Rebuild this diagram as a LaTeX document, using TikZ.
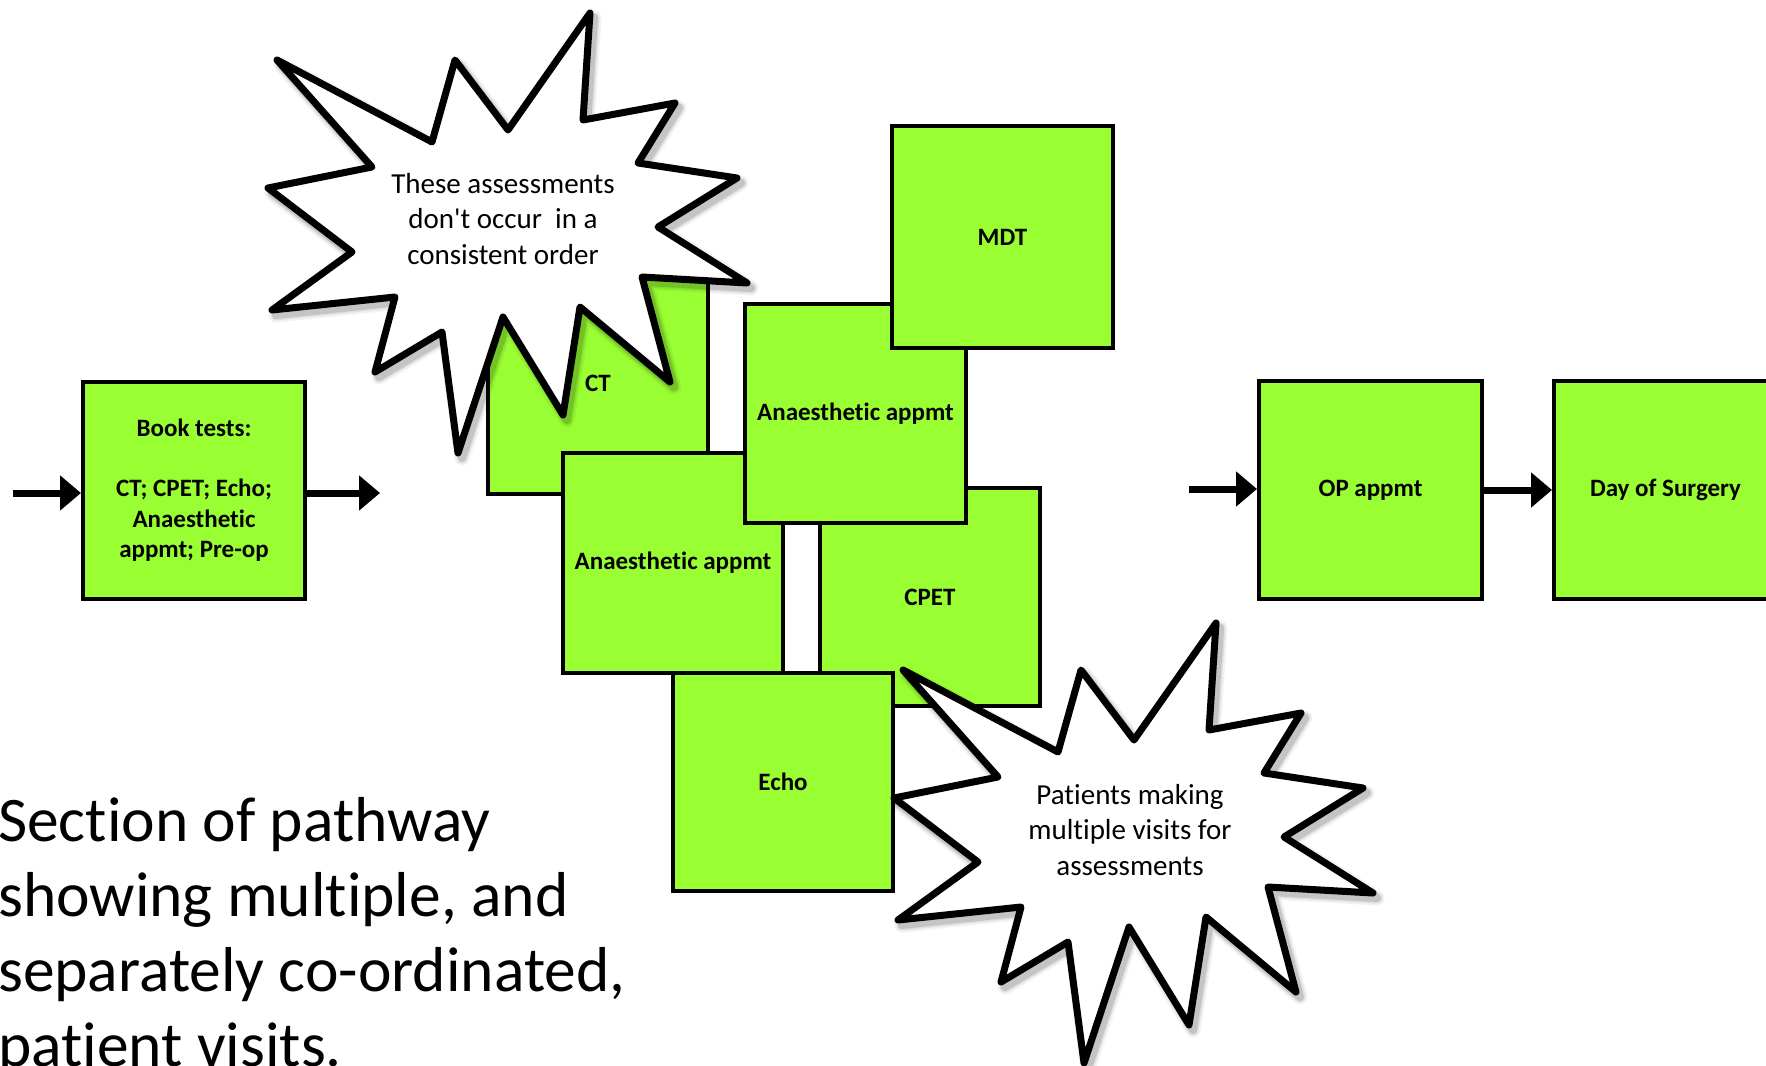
\documentclass[tikz,border=0pt]{standalone}
\usepackage{fontspec}
\setmainfont{Carlito}[Ligatures={TeX,NoCommon}]
\usetikzlibrary{arrows.meta}
\definecolor{boxgreen}{RGB}{153,255,51}
\begin{document}
\begin{tikzpicture}[x=1pt,y=-1pt,
  box/.style={draw=black, line width=4pt, fill=boxgreen, inner sep=0pt, align=center,
    font=\fontsize{25}{30.4}\selectfont\bfseries},
  flow/.style={line width=7pt, -{Triangle[length=21pt,width=34pt]}},
  sbtext/.style={align=center, inner sep=0pt, font=\fontsize{29}{35.5}\selectfont},
  sbpath/.style={insert path={(590,13) -- (583,120) -- (675,103) -- (638,163) -- (737,178)
    -- (658,227) -- (747,283) -- (642,277) -- (670,382) -- (580,307) -- (563,415)
    -- (503,317) -- (458,453) -- (442,332) -- (375,372) -- (395,297) -- (272,310)
    -- (352,252) -- (268,188) -- (372,167) -- (277,60) -- (432,142) -- (455,60)
    -- (508,130) -- cycle}},
  sbshadow/.style={draw=black, line join=round, shift={(4,5)}},
  sbline/.style={draw=black, fill=white, line width=7pt, line join=round},
  caption/.style={anchor=base west, align=left, inner sep=0pt,
    font=\fontsize{63.5}{75}\selectfont}
]
\useasboundingbox (0,0) rectangle (1766,1065);
\clip (0,0) rectangle (1766,1065);

% boxes (back to front)
\node[box, minimum width=222pt, minimum height=217pt] (book) at (194,490)
  {Book tests:\\\mbox{}\\CT; CPET; Echo;\\Anaesthetic\\appmt; Pre-op};
\node[box, minimum width=220pt, minimum height=221pt] (ct) at (598,383.5) {CT};
\node[box, minimum width=220pt, minimum height=218pt] (cpet) at (930,597) {CPET};
\node[box, minimum width=220pt, minimum height=220pt] (a1) at (673,563) {Anaesthetic appmt};
\node[box, minimum width=221pt, minimum height=219pt] (a2) at (855.5,413.5) {Anaesthetic appmt};
\node[box, minimum width=221pt, minimum height=222pt] (mdt) at (1002.5,237) {MDT};
\node[box, minimum width=220pt, minimum height=218pt] (echo) at (783,782) {Echo};
\node[box, minimum width=223pt, minimum height=218pt] (op) at (1370.5,490) {OP appmt};
\node[box, minimum width=223pt, minimum height=218pt] (day) at (1665.5,490) {Day of Surgery};

% connectors
\coordinate (inL) at (13,493);
\coordinate (outL) at (380,493);
\coordinate (inR) at (1189,489);
\draw[flow] (inL) -- (inL -| book.west);
\draw[flow] (book.east |- outL) -- (outL);
\draw[flow] (inR) -- (inR -| op.west);
\draw[flow] (op) -- (day);

% starburst 1
\path[sbshadow, line width=15pt, draw opacity=0.05, sbpath];
\path[sbshadow, line width=11pt, draw opacity=0.08, sbpath];
\path[sbshadow, line width=8pt, draw opacity=0.12, sbpath];
\path[sbline, sbpath];
\node[sbtext] (sb1) at (503,219) {These assessments\\don\textquotesingle t occur\ \ in a\\consistent order};

% starburst 2
\begin{scope}[shift={(626,610)}]
\path[sbshadow, line width=15pt, draw opacity=0.05, sbpath];
\path[sbshadow, line width=11pt, draw opacity=0.08, sbpath];
\path[sbshadow, line width=8pt, draw opacity=0.12, sbpath];
\path[sbline, sbpath];
\end{scope}
\node[sbtext] (sb2) at (1130,830) {Patients making\\multiple visits for\\assessments};

% caption
\node[caption] (cap) at (-2,1066) {Section of pathway\\showing multiple, and\\separately co-ordinated,\\patient visits.};
\end{tikzpicture}
\end{document}
